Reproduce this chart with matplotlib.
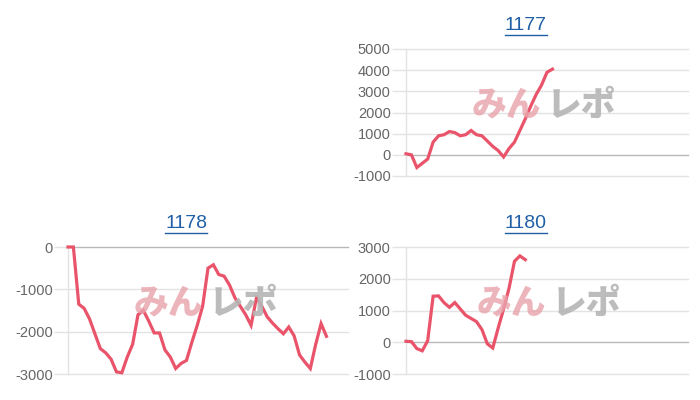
import matplotlib
matplotlib.use("Agg")
import matplotlib.pyplot as plt
from matplotlib.lines import Line2D

plt.rcParams['font.family'] = ['Liberation Sans', 'DejaVu Sans']

# ---- data ----
n_slots = 53
titles = ["1177", "1178", "1180"]
series_1177 = [50, 0, -600, -400, -200, 600, 900, 950, 1100, 1050, 900, 950, 1150, 950,
               900, 650, 400, 200, -100, 300, 600, 1150, 1700, 2300, 2850, 3300, 3900, 4050]
series_1178 = [0, 0, -1350, -1450, -1700, -2050, -2400, -2500, -2650, -2950, -2970, -2600,
               -2300, -1600, -1500, -1750, -2030, -2030, -2430, -2600, -2870, -2750, -2680,
               -2250, -1850, -1400, -500, -420, -650, -690, -900, -1200, -1400, -1600, -1850,
               -1200, -1400, -1650, -1800, -1930, -2050, -1890, -2100, -2550, -2720, -2870,
               -2300, -1810, -2110]
series_1180 = [30, 20, -200, -270, 50, 1450, 1460, 1250, 1100, 1250, 1050, 850, 750, 650,
               400, -50, -180, 450, 1050, 1700, 2550, 2720, 2600]
yticks_1177 = [-1000, 0, 1000, 2000, 3000, 4000, 5000]
yticks_1178 = [-3000, -2000, -1000, 0]
yticks_1180 = [-1000, 0, 1000, 2000, 3000]

W, H = 700, 400
fig = plt.figure(figsize=(7, 4), dpi=100)
fig.patch.set_facecolor('white')

LINE = '#e9546b'
GRID = '#e3e3e3'
ZERO = '#b8b8b8'
TICKC = '#666666'
TITLEC = '#1f5fa6'

def px_axes(left, top, right, bottom):
    return fig.add_axes([left / W, 1 - bottom / H, (right - left) / W, (bottom - top) / H])

panels = [
    (series_1177, yticks_1177, (406, 49, 688, 176), (526, 25), (543, 105)),
    (series_1178, yticks_1178, (68, 247, 348, 374), (186, 223), (205, 303)),
    (series_1180, yticks_1180, (406, 247, 688, 374), (526, 223), (548, 303)),
]

for (vals, ticks, box, tpos, wpos), title in zip(panels, titles):
    ax = px_axes(*box)
    ax.set_xlim(0, n_slots - 1)
    ax.set_ylim(ticks[0], ticks[-1])
    for s in ['top', 'right', 'bottom']:
        ax.spines[s].set_visible(False)
    ax.spines['left'].set_color(GRID)
    ax.spines['left'].set_linewidth(1)
    ax.set_xticks([])
    ax.set_yticks(ticks)
    ax.set_yticklabels([str(t) for t in ticks])
    ax.tick_params(axis='y', length=10, width=1, color=GRID, labelsize=10.5,
                   labelcolor=TICKC, pad=1)
    for t in ticks:
        ax.axhline(t, color=ZERO if t == 0 else GRID, lw=1, zorder=1, clip_on=False)
    # watermark
    fig.text((wpos[0] - 2) / W, 1 - wpos[1] / H, "みん", fontsize=25, fontweight='heavy',
             family=['Noto Sans CJK JP'], color='#e8a3ab', alpha=0.8,
             ha='right', va='center', zorder=0)
    fig.text((wpos[0] + 4) / W, 1 - wpos[1] / H, "レポ", fontsize=25, fontweight='heavy',
             family=['Noto Sans CJK JP'], color='#b5b5b5', alpha=0.9,
             ha='left', va='center', zorder=0)
    ax.patch.set_alpha(0)
    ax.plot(range(len(vals)), vals, color=LINE, lw=2.3, solid_joinstyle='miter', zorder=3,
            clip_on=False)
    # title with underline
    txt = fig.text(tpos[0] / W, 1 - tpos[1] / H, title, fontsize=14, color=TITLEC,
                   ha='center', va='center')
    fig.canvas.draw()
    bb = txt.get_window_extent()
    yline = (bb.y0 - 1) / H
    fig.add_artist(Line2D([bb.x0 / W, bb.x1 / W], [yline, yline], color=TITLEC, lw=1))

fig.savefig('out.png', dpi=100, facecolor='white')
